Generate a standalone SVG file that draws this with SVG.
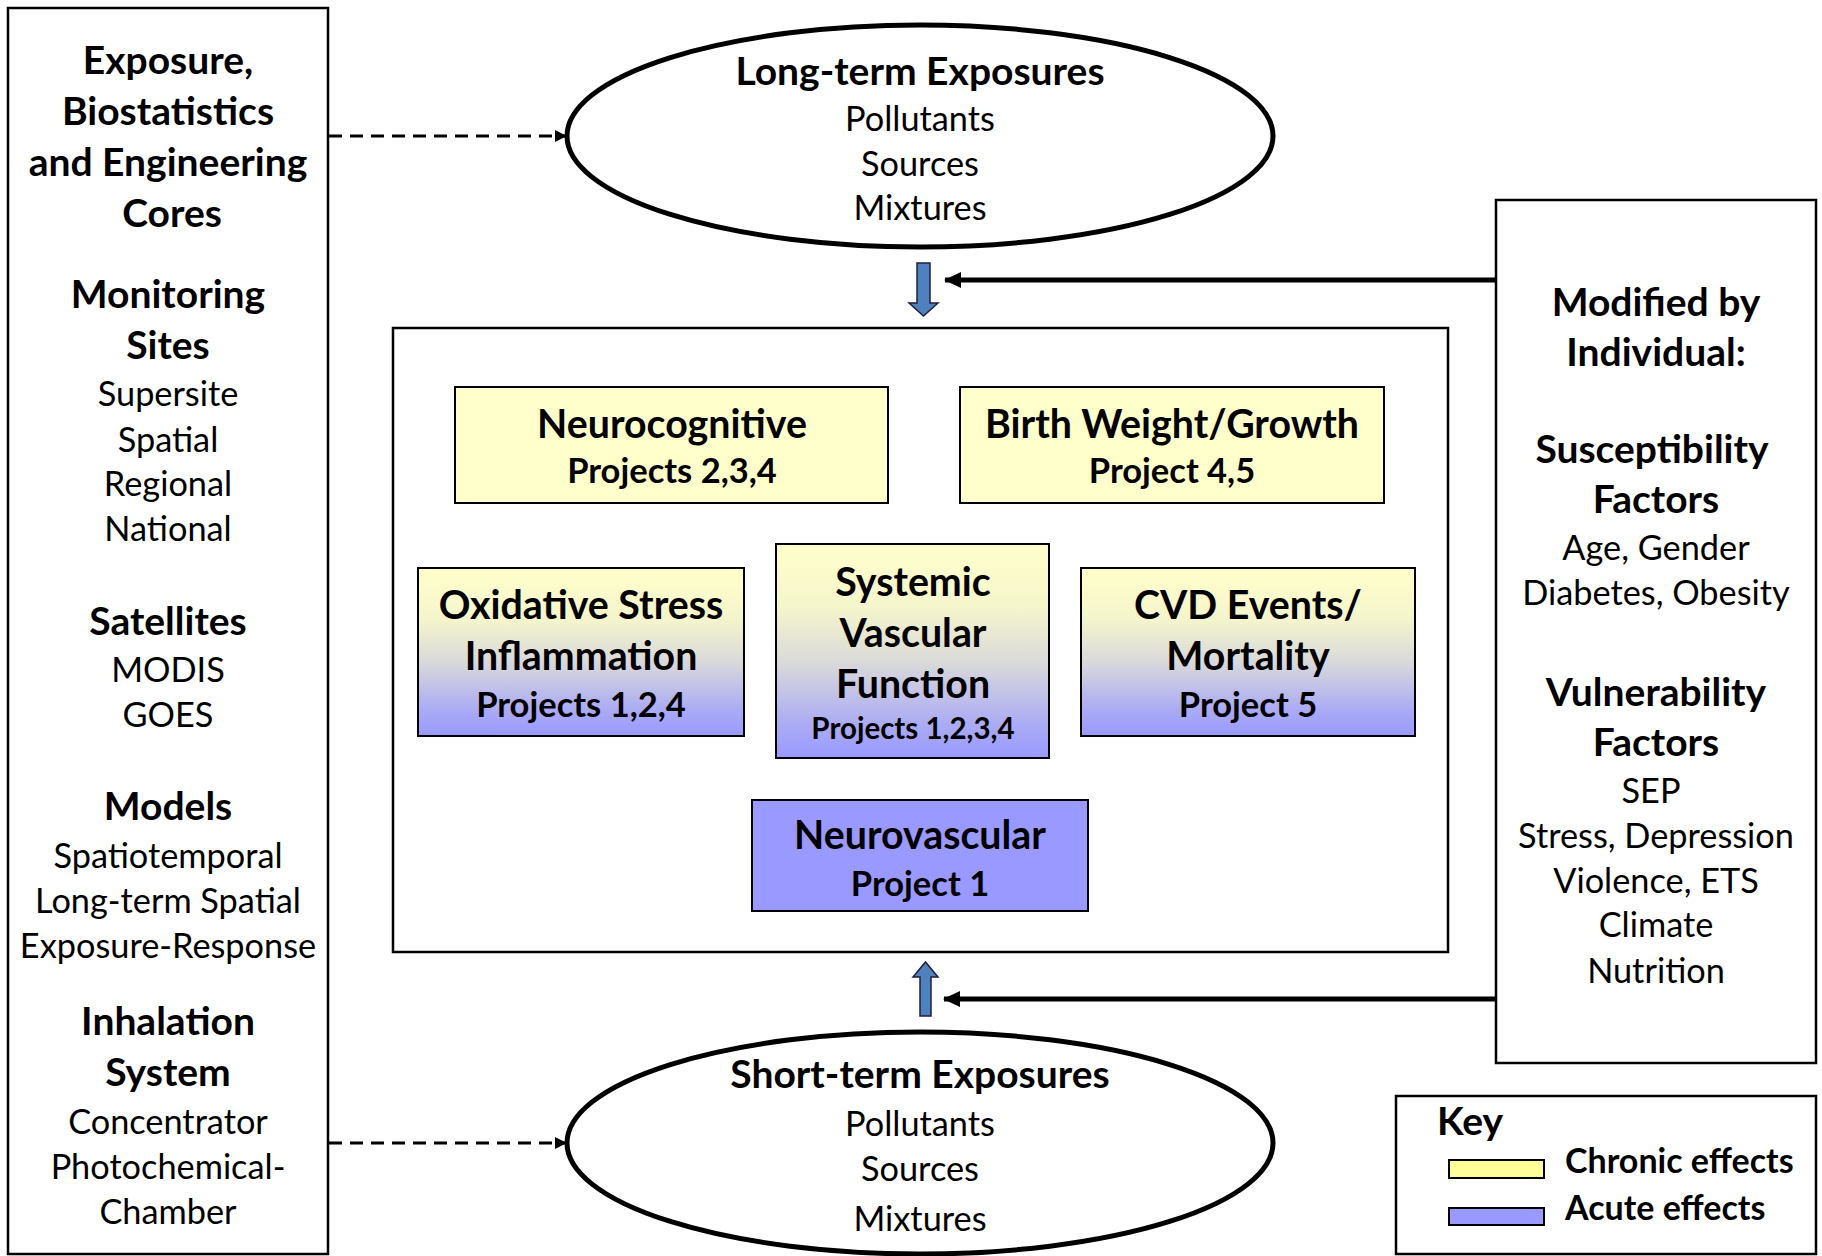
<svg xmlns="http://www.w3.org/2000/svg" width="1822" height="1256" viewBox="0 0 1822 1256">
<style>
text{font-family:Lato,"Open Sans","Liberation Sans",sans-serif;fill:#000;text-anchor:middle}
.b{font-weight:bold;font-size:39px}
.r{font-size:34.3px}
.bx{font-weight:bold;font-size:39.3px}
.pj{font-weight:bold;font-size:34.5px}
.kt{font-weight:bold;font-size:34px}
.frame{fill:#fff;stroke:#000;stroke-width:2.5}
.ell{fill:#fff;stroke:#000;stroke-width:5}
.box{stroke:#000;stroke-width:2}
.dash{fill:none;stroke:#000;stroke-width:3;stroke-dasharray:13 8}
.solid{fill:none;stroke:#000;stroke-width:5}
.blk{fill:#4F81BD;stroke:#1F1F3F;stroke-width:1.5}
</style>
<defs>
<linearGradient id="grad" x1="0" y1="0" x2="0" y2="1">
<stop offset="0" stop-color="#FFFFCC"/>
<stop offset="0.3" stop-color="#F5F5CC"/>
<stop offset="0.55" stop-color="#DADADA"/>
<stop offset="0.85" stop-color="#AAAAF5"/>
<stop offset="1" stop-color="#9999FF"/>
</linearGradient>
<marker id="ah" markerWidth="12" markerHeight="12" refX="11" refY="6" orient="auto" markerUnits="userSpaceOnUse">
<path d="M0,0 L12,6 L0,12 Z" fill="#000"/>
</marker>
<marker id="ah2" markerWidth="18" markerHeight="16" refX="16" refY="8" orient="auto" markerUnits="userSpaceOnUse">
<path d="M0,0 L17,8 L0,16 Z" fill="#000"/>
</marker>
</defs>

<g id="cores">
<rect class="frame" x="8" y="8" width="320" height="1246"/>
<text class="b" x="168" y="74">Exposure,</text>
<text class="b" x="168" y="125">Biostatistics</text>
<text class="b" x="168" y="176">and Engineering</text>
<text class="b" x="172" y="227">Cores</text>
<text class="b" x="168" y="308">Monitoring</text>
<text class="b" x="168" y="359">Sites</text>
<text class="r" x="168" y="406">Supersite</text>
<text class="r" x="168" y="452">Spatial</text>
<text class="r" x="168" y="496">Regional</text>
<text class="r" x="168" y="541">National</text>
<text class="b" x="168" y="635">Satellites</text>
<text class="r" x="168" y="682">MODIS</text>
<text class="r" x="168" y="727">GOES</text>
<text class="b" x="168" y="820">Models</text>
<text class="r" x="168" y="868">Spatiotemporal</text>
<text class="r" x="168" y="913">Long-term Spatial</text>
<text class="r" x="168" y="958">Exposure-Response</text>
<text class="b" x="168" y="1035">Inhalation</text>
<text class="b" x="168" y="1086">System</text>
<text class="r" x="168" y="1134">Concentrator</text>
<text class="r" x="168" y="1179">Photochemical-</text>
<text class="r" x="168" y="1224">Chamber</text>
</g>

<g id="long-term">
<ellipse class="ell" cx="920" cy="136" rx="353" ry="111"/>
<text class="b" x="920" y="85">Long-term Exposures</text>
<text class="r" x="920" y="131">Pollutants</text>
<text class="r" x="920" y="176">Sources</text>
<text class="r" x="920" y="220">Mixtures</text>
</g>

<g id="short-term">
<ellipse class="ell" cx="920" cy="1143" rx="353" ry="111"/>
<text class="b" x="920" y="1088">Short-term Exposures</text>
<text class="r" x="920" y="1136">Pollutants</text>
<text class="r" x="920" y="1181">Sources</text>
<text class="r" x="920" y="1231">Mixtures</text>
</g>

<g id="modifiers">
<rect class="frame" x="1496" y="200" width="320" height="863"/>
<text class="b" x="1656" y="316">Modified by</text>
<text class="b" x="1656" y="366">Individual:</text>
<text class="b" x="1652" y="463">Susceptibility</text>
<text class="b" x="1656" y="513">Factors</text>
<text class="r" x="1656" y="560">Age, Gender</text>
<text class="r" x="1656" y="605">Diabetes, Obesity</text>
<text class="b" x="1656" y="706">Vulnerability</text>
<text class="b" x="1656" y="756">Factors</text>
<text class="r" x="1651" y="803">SEP</text>
<text class="r" x="1656" y="848">Stress, Depression</text>
<text class="r" x="1656" y="893">Violence, ETS</text>
<text class="r" x="1656" y="937">Climate</text>
<text class="r" x="1656" y="983">Nutrition</text>
</g>

<g id="outcomes">
<rect class="frame" x="393" y="328" width="1055" height="624" stroke-width="2"/>
</g>

<g id="neurocognitive">
<rect class="box" x="455" y="387" width="433" height="116" fill="#FFFFCC"/>
<text class="bx" x="672" y="438">Neurocognitive</text>
<text class="pj" x="672" y="483">Projects 2,3,4</text>
</g>

<g id="birth-weight">
<rect class="box" x="960" y="387" width="424" height="116" fill="#FFFFCC"/>
<text class="bx" x="1172" y="438">Birth Weight/Growth</text>
<text class="pj" x="1172" y="483">Project 4,5</text>
</g>

<g id="oxidative">
<rect class="box" x="418" y="568" width="326" height="168" fill="url(#grad)"/>
<text class="bx" x="581" y="619">Oxidative Stress</text>
<text class="bx" x="581" y="670">Inflammation</text>
<text class="pj" x="581" y="717">Projects 1,2,4</text>
</g>

<g id="systemic">
<rect class="box" x="776" y="544" width="273" height="214" fill="url(#grad)"/>
<text class="bx" x="913" y="596">Systemic</text>
<text class="bx" x="913" y="647">Vascular</text>
<text class="bx" x="913" y="698">Function</text>
<text class="pj" x="913" y="739" style="font-size:29.5px">Projects 1,2,3,4</text>
</g>

<g id="cvd">
<rect class="box" x="1081" y="568" width="334" height="168" fill="url(#grad)"/>
<text class="bx" x="1248" y="619">CVD Events/</text>
<text class="bx" x="1248" y="670">Mortality</text>
<text class="pj" x="1248" y="717">Project 5</text>
</g>

<g id="neurovascular">
<rect class="box" x="752" y="800" width="336" height="111" fill="#9999FF"/>
<text class="bx" x="920" y="849">Neurovascular</text>
<text class="pj" x="920" y="896">Project 1</text>
</g>

<g id="key">
<rect class="frame" x="1396" y="1096" width="420" height="158"/>
<text class="b" x="1437" y="1135" style="text-anchor:start">Key</text>
<rect x="1449" y="1160" width="95" height="18" fill="#FFFF99" stroke="#000" stroke-width="2"/>
<rect x="1449" y="1208" width="95" height="17" fill="#9999FF" stroke="#000" stroke-width="2"/>
<text class="kt" x="1565" y="1173" style="text-anchor:start">Chronic effects</text>
<text class="kt" x="1565" y="1220" style="text-anchor:start">Acute effects</text>
</g>

<g id="connectors">
<line class="dash" x1="329" y1="136" x2="566" y2="136" marker-end="url(#ah)"/>
<line class="dash" x1="329" y1="1143" x2="566" y2="1143" marker-end="url(#ah)"/>
<line class="solid" x1="1496" y1="280" x2="945" y2="280" marker-end="url(#ah2)"/>
<line class="solid" x1="1496" y1="999" x2="944" y2="999" marker-end="url(#ah2)"/>
<path class="blk" d="M917,263 L930,263 L930,303 L938,303 L923.5,316 L909,303 L917,303 Z"/>
<path class="blk" d="M920,1016 L931,1016 L931,977 L938,977 L925.5,962 L913,977 L920,977 Z"/>
</g>
</svg>
